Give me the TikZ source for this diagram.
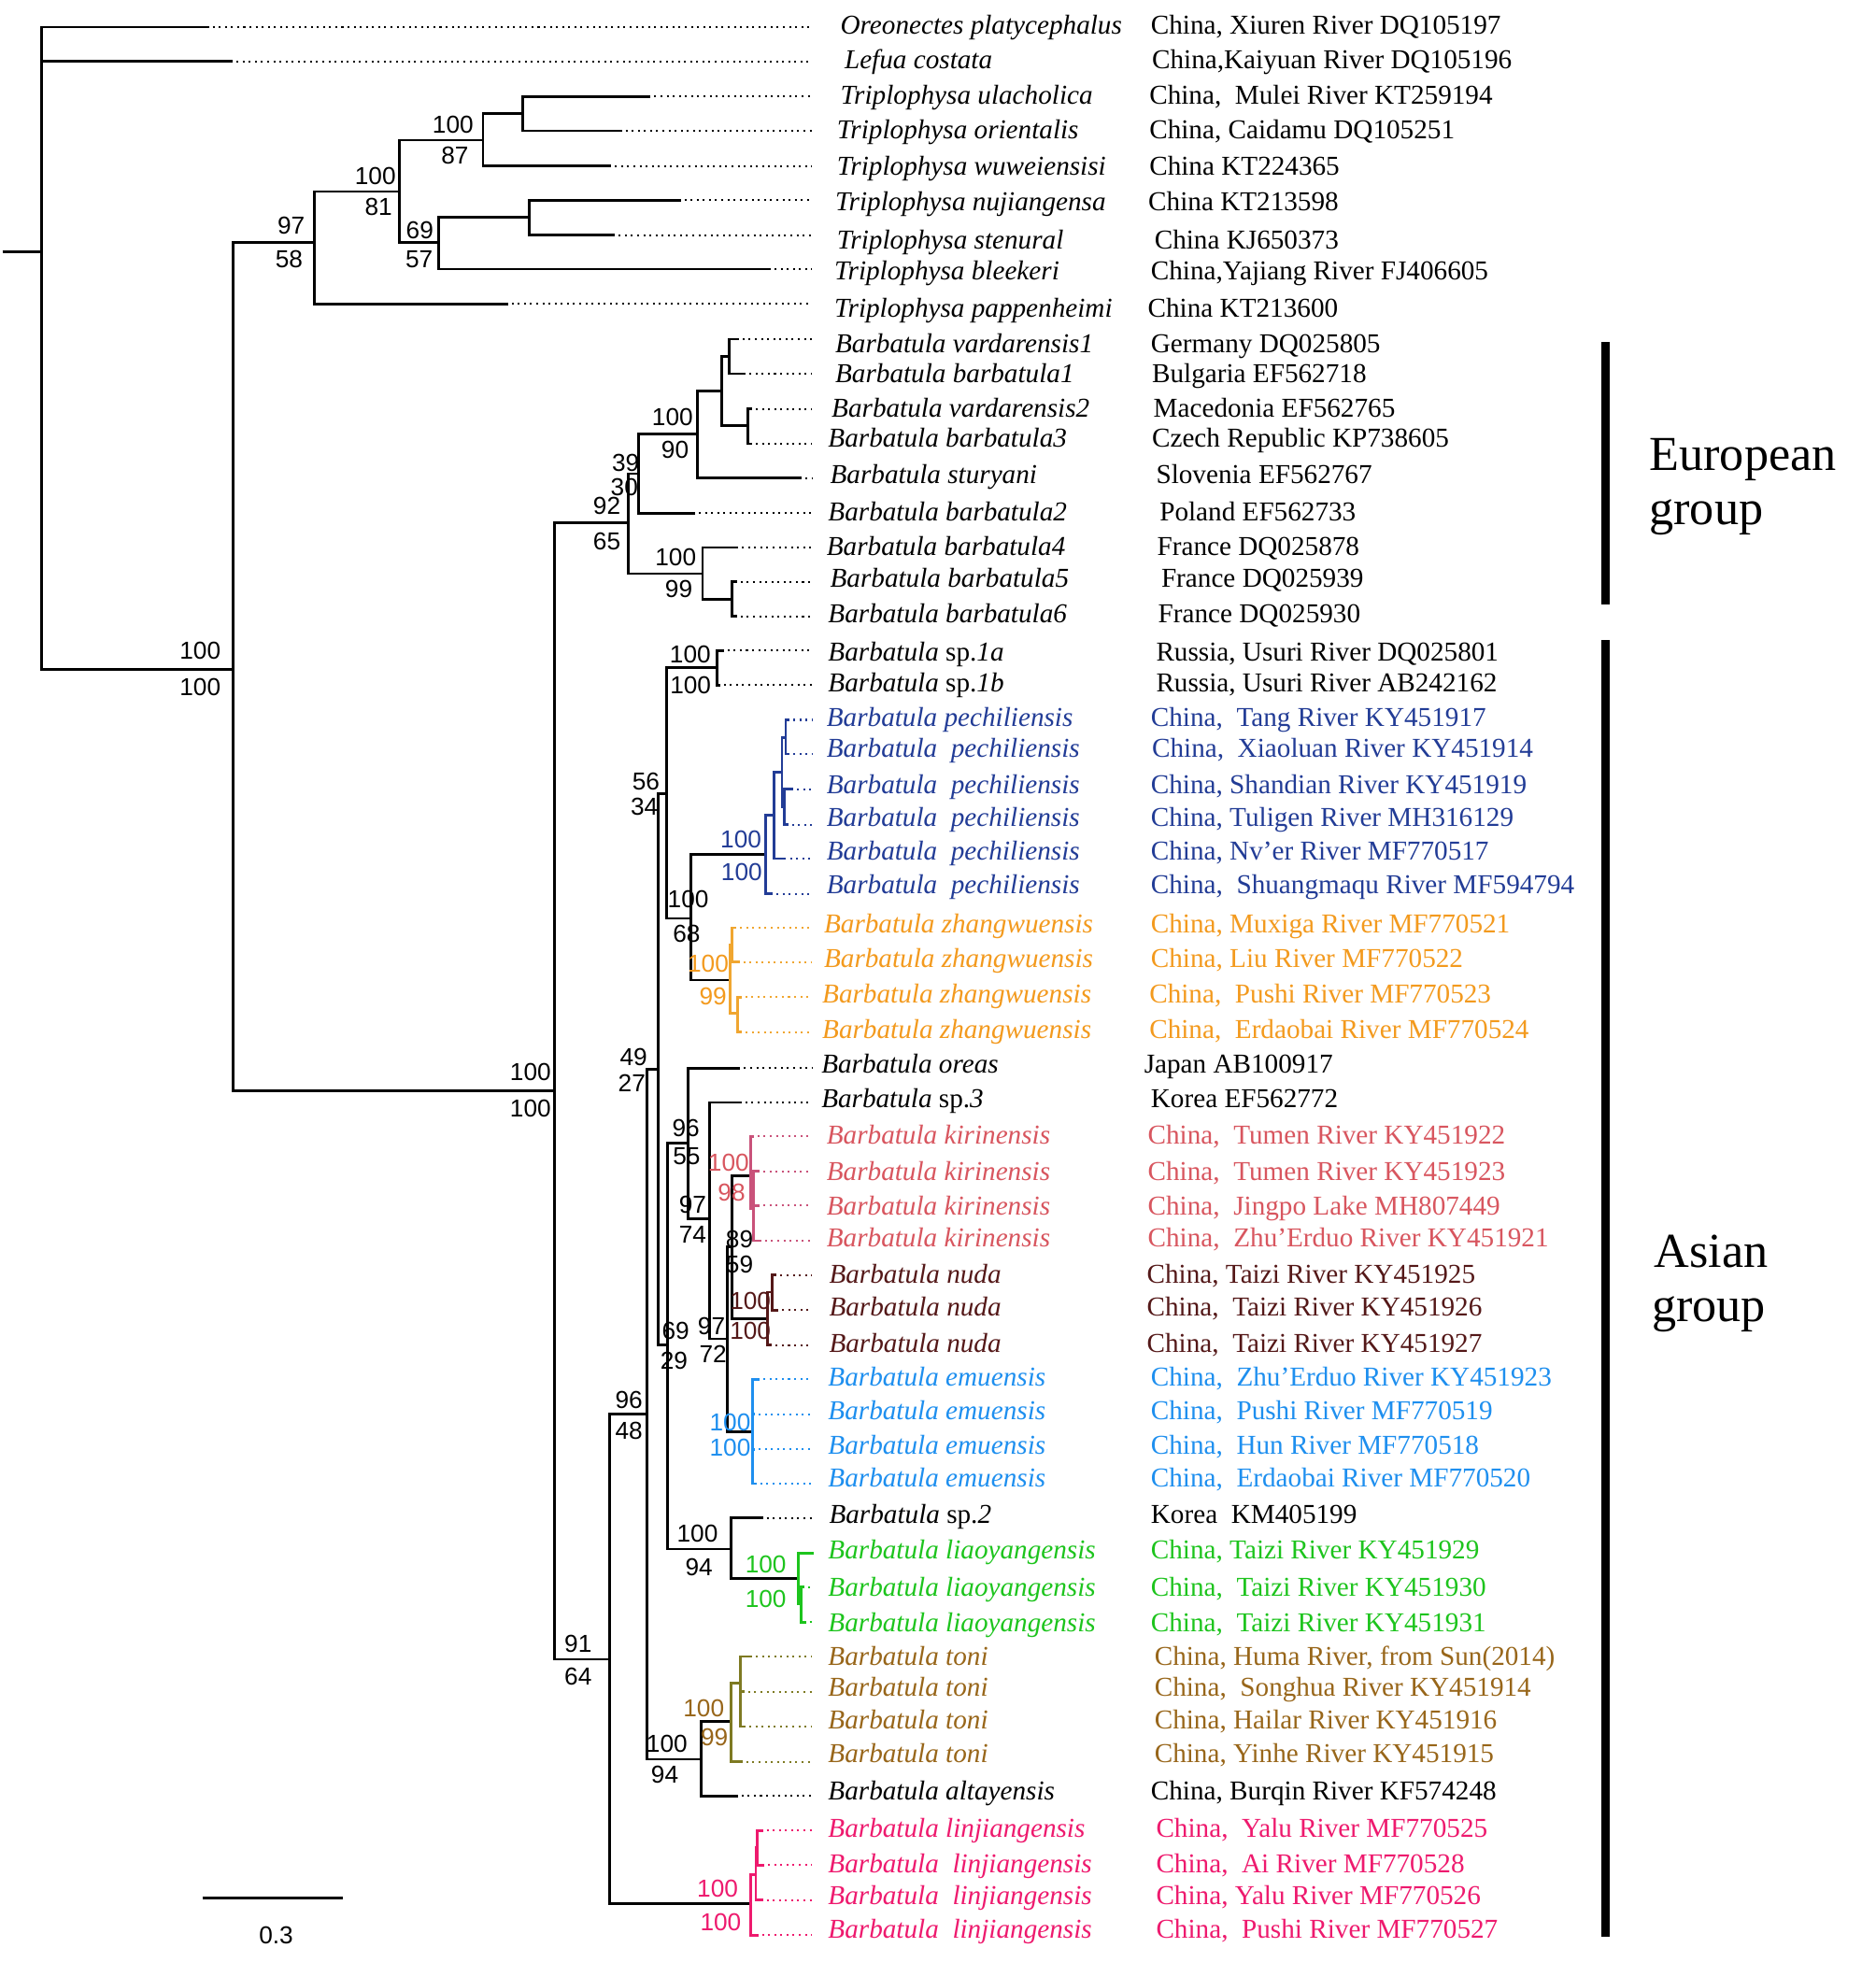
\documentclass[tikz,border=0pt]{standalone}
\usepackage{fontspec}
\setmainfont{Liberation Serif}
\newfontfamily\numfont{Liberation Sans}
\definecolor{pechC}{HTML}{223C96}
\definecolor{zhB}{HTML}{F0A630}
\definecolor{zhT}{HTML}{F39A1E}
\definecolor{kiB}{HTML}{C9527A}
\definecolor{kiT}{HTML}{D8565F}
\definecolor{nuC}{HTML}{541818}
\definecolor{emC}{HTML}{1E8FEF}
\definecolor{liC}{HTML}{1DC41D}
\definecolor{toB}{HTML}{7E7A22}
\definecolor{toT}{HTML}{98661A}
\definecolor{ljC}{HTML}{EE1A6E}
\newcommand\leafx[5]{\coordinate (#1) at (#3,#4); \draw[br,#5] (#2) |- (#1); \draw[dotl,#5] ([xshift=3pt]#1) -- (#1 -| dotend);}
\newcommand\inode[5]{\coordinate (#1) at (#3,#4); \draw[br,#5] (#2) |- (#1);}
\newcommand\trow[7]{\node[tax,text=#5] (#1a) at (#3,#2) {#6}; \node[loc,text=#5] (#1b) at (#4,#2) {#7};}
\newcommand\bval[5]{\node[lab,text=#5] (#1) at (#2,#3) {#4};}
\begin{document}
\begin{tikzpicture}[x=1pt,y=-1pt,
  br/.style={line width=2.1pt, line join=miter, line cap=butt},
  dotl/.style={line width=1.5pt, dash pattern=on 1.5pt off 3.4pt},
  tax/.style={anchor=base west, inner sep=0pt, font=\fontsize{21.8}{24}\selectfont\itshape},
  loc/.style={anchor=base west, inner sep=0pt, font=\fontsize{21.8}{24}\selectfont},
  lab/.style={inner sep=0pt, font=\numfont\fontsize{19.6}{21}\selectfont},
  grp/.style={anchor=base west, inner sep=0pt, font=\fontsize{39}{42}\selectfont}]
\useasboundingbox (0,0) rectangle (1499,1568);
\fill[white] (0,0) rectangle (1499,1568);
\coordinate (dotend) at (649,0);
% ---------- tree ----------
\coordinate (R0) at (2,201.5);
\coordinate (R) at (33,201.5);
\draw[br] (R0) -- (R);
\leafx{ore}{R}{167}{21.6}{black}
\leafx{lef}{R}{186}{49}{black}
\inode{A}{R}{186}{535}{black}
\inode{TR}{A}{251.5}{193.6}{black}
\inode{T81}{TR}{319}{153}{black}
\leafx{pap}{TR}{406}{243}{black}
\inode{T87}{T81}{386}{112}{black}
\inode{T69}{T81}{350.5}{194}{black}
\inode{Tul}{T87}{418}{91}{black}
\leafx{ula}{Tul}{520}{77}{black}
\leafx{ori}{Tul}{497}{104.5}{black}
\leafx{wuw}{T87}{488.5}{132.6}{black}
\inode{Tnj}{T69}{423}{173.4}{black}
\leafx{nuj}{Tnj}{544}{160}{black}
\leafx{ste}{Tnj}{491.5}{188}{black}
\leafx{ble}{T69}{616}{215}{black}
\inode{B}{A}{443}{872}{black}
\inode{EU}{B}{502}{418}{black}
\inode{E39}{EU}{510.6}{378.5}{black}
\inode{E100}{E39}{557.4}{347}{black}
\leafx{bb2}{E39}{555.5}{410}{black}
\inode{E1}{E100}{577}{312.3}{black}
\leafx{stu}{E100}{640.6}{382}{black}
\inode{E2}{E1}{583}{285}{black}
\inode{E3}{E1}{597.7}{340.4}{black}
\leafx{vd1}{E2}{590.5}{271}{black}
\leafx{bb1}{E2}{596}{298.6}{black}
\leafx{vd2}{E3}{601}{326.7}{black}
\leafx{bb3}{E3}{601}{354.6}{black}
\inode{E4}{EU}{561.5}{458.4}{black}
\leafx{bb4}{E4}{590}{437.5}{black}
\inode{E5}{E4}{584.8}{479}{black}
\leafx{bb5}{E5}{589}{464.8}{black}
\leafx{bb6}{E5}{589}{492.7}{black}
\inode{AS}{B}{487}{1326}{black}
\inode{N96}{AS}{517}{1130.2}{black}
\inode{LJ}{AS}{600.2}{1521.6}{black}
\inode{N49}{N96}{526}{854.7}{black}
\inode{N100c}{N96}{560.4}{1405.9}{black}
\inode{N56}{N49}{533}{634}{black}
\inode{N69}{N49}{533.7}{1075}{black}
\inode{SP1}{N56}{573}{533.7}{black}
\leafx{s1a}{SP1}{578.5}{520}{black}
\leafx{s1b}{SP1}{575.5}{547.4}{black}
\inode{N100a}{N56}{552}{734}{black}
\inode{P}{N100a}{612}{683}{black}
\inode{Z}{N100a}{583.5}{783.3}{black}
% pechiliensis
\inode{P1}{P}{618.5}{651.4}{pechC}
\leafx{pe6}{P}{617.7}{714.2}{pechC}
\inode{P2}{P1}{625}{617}{pechC}
\leafx{pe5}{P1}{628.3}{686.2}{pechC}
\inode{P3}{P2}{628}{589.7}{pechC}
\inode{P4}{P2}{627}{645}{pechC}
\leafx{pe1}{P3}{631}{575.3}{pechC}
\leafx{pe2}{P3}{631}{602.6}{pechC}
\leafx{pe3}{P4}{634}{630.8}{pechC}
\leafx{pe4}{P4}{630}{659}{pechC}
% zhangwuensis
\inode{Z1}{Z}{585.2}{755}{zhB}
\inode{Z2}{Z}{589.7}{810}{zhB}
\leafx{zh1}{Z1}{588.5}{741.5}{zhB}
\leafx{zh2}{Z1}{591}{768.9}{zhB}
\leafx{zh3}{Z2}{592.5}{797}{zhB}
\leafx{zh4}{Z2}{593}{824.9}{zhB}
% lower asian
\inode{N96b}{N69}{550}{913.7}{black}
\inode{N100b}{N69}{584.3}{1238}{black}
\leafx{orea}{N96b}{591.7}{853.5}{black}
\inode{N97}{N96b}{566.8}{974.2}{black}
\leafx{spt}{N97}{592.7}{881}{black}
\inode{N97b}{N97}{581}{1070}{black}
\inode{N89}{N97b}{585.3}{996.6}{black}
\inode{EM}{N97b}{601.7}{1144.1}{black}
\inode{K}{N89}{600}{939.4}{black}
\inode{NU}{N89}{613.3}{1053.8}{black}
% kirinensis
\leafx{ki1}{K}{602.4}{908.2}{kiB}
\inode{K1}{K}{602.4}{966}{kiB}
\leafx{ki2}{K1}{607}{936.1}{kiB}
\leafx{ki3}{K1}{607}{963.5}{kiB}
\leafx{ki4}{K1}{608.4}{991.6}{kiB}
% nuda
\inode{NU1}{NU}{617.1}{1032.6}{nuC}
\leafx{nu3}{NU}{617}{1075}{nuC}
\leafx{nu1}{NU1}{620.8}{1019}{nuC}
\leafx{nu2}{NU1}{622}{1047}{nuC}
% emuensis
\leafx{em1}{EM}{607.2}{1102.3}{emC}
\leafx{em2}{EM}{603.4}{1130.2}{emC}
\leafx{em3}{EM}{603.4}{1158.3}{emC}
\leafx{em4}{EM}{604.7}{1185.7}{emC}
% sp2 + liaoyangensis
\leafx{sptwo}{N100b}{609.7}{1213}{black}
\inode{L}{N100b}{638.3}{1261.6}{black}
\inode{li1}{L}{650}{1241.2}{liC}
\inode{L1}{L}{640.5}{1282}{liC}
\leafx{li2}{L1}{642.9}{1268.5}{liC}
\leafx{li3}{L1}{644.1}{1296.4}{liC}
% toni + altayensis
\inode{T}{N100c}{584.3}{1376}{black}
\leafx{alt}{N100c}{589.7}{1435.3}{black}
\inode{T1}{T}{592}{1345}{toB}
\leafx{to4}{T}{593.5}{1408}{toB}
\leafx{to1}{T1}{601}{1323.8}{toB}
\leafx{to2}{T1}{595}{1352}{toB}
\leafx{to3}{T1}{595.9}{1379.8}{toB}
% linjiangensis
\inode{LJ1}{LJ}{604}{1498}{ljC}
\leafx{lj4}{LJ}{606}{1546.5}{ljC}
\inode{LJ2}{LJ1}{605.2}{1476.8}{ljC}
\leafx{lj3}{LJ1}{609.7}{1518.4}{ljC}
\leafx{lj1}{LJ2}{609.7}{1463}{ljC}
\leafx{lj2}{LJ2}{610.9}{1490.5}{ljC}
% ---------- support values ----------
\bval{v1}{160}{520}{100}{black}
\bval{v2}{160}{549}{100}{black}
\bval{v3}{232.7}{180}{97}{black}
\bval{v4}{231}{207}{58}{black}
\bval{v5}{300}{140.6}{100}{black}
\bval{v6}{302.5}{165}{81}{black}
\bval{v7}{362}{100}{100}{black}
\bval{v8}{363.6}{124}{87}{black}
\bval{v9}{335.5}{184}{69}{black}
\bval{v10}{335}{207}{57}{black}
\bval{v11}{424}{857}{100}{black}
\bval{v12}{424}{886}{100}{black}
\bval{v13}{537.5}{333.5}{100}{black}
\bval{v14}{539.5}{359.6}{90}{black}
\bval{v15}{500}{370}{39}{black}
\bval{v16}{499}{389.4}{30}{black}
\bval{v17}{485}{404}{92}{black}
\bval{v18}{485}{432.5}{65}{black}
\bval{v19}{540}{445.4}{100}{black}
\bval{v20}{542.5}{470.8}{99}{black}
\bval{v21}{462}{1314}{91}{black}
\bval{v22}{462}{1340}{64}{black}
\bval{v23}{551.7}{523}{100}{black}
\bval{v24}{551.9}{547.4}{100}{black}
\bval{v25}{516.3}{624.5}{56}{black}
\bval{v26}{515}{644.5}{34}{black}
\bval{v27}{592.2}{670.6}{100}{pechC}
\bval{v28}{592.7}{696.7}{100}{pechC}
\bval{v29}{550}{719}{100}{black}
\bval{v30}{548.7}{746.5}{68}{black}
\bval{v31}{566}{770}{100}{zhT}
\bval{v32}{569.8}{796.3}{99}{zhT}
\bval{v33}{506.4}{844.8}{49}{black}
\bval{v34}{505}{866}{27}{black}
\bval{v35}{548.2}{901.2}{96}{black}
\bval{v36}{548.7}{924.4}{55}{black}
\bval{v37}{553.6}{963}{97}{black}
\bval{v38}{553.6}{986.6}{74}{black}
\bval{v39}{582.3}{929.4}{100}{kiT}
\bval{v40}{584.7}{953}{98}{kiT}
\bval{v41}{591}{990.3}{89}{black}
\bval{v42}{591}{1010.3}{59}{black}
\bval{v43}{599.7}{1040}{100}{nuC}
\bval{v44}{599.7}{1063.8}{100}{nuC}
\bval{v45}{540}{1063.8}{69}{black}
\bval{v46}{538.7}{1087.4}{29}{black}
\bval{v47}{568.6}{1060}{97}{black}
\bval{v48}{569.8}{1082.4}{72}{black}
\bval{v49}{583.5}{1136.7}{100}{emC}
\bval{v50}{583.5}{1157}{100}{emC}
\bval{v51}{502.6}{1118.5}{96}{black}
\bval{v52}{502.6}{1143.4}{48}{black}
\bval{v53}{557.4}{1225.5}{100}{black}
\bval{v54}{558.6}{1252.8}{94}{black}
\bval{v55}{612}{1250.4}{100}{liC}
\bval{v56}{612}{1277.8}{100}{liC}
\bval{v57}{562.4}{1365.6}{100}{toT}
\bval{v58}{571}{1388.5}{99}{toT}
\bval{v59}{533}{1393.5}{100}{black}
\bval{v60}{531.3}{1418.3}{94}{black}
\bval{v61}{573.5}{1509}{100}{ljC}
\bval{v62}{576}{1536.5}{100}{ljC}
% ---------- taxa ----------
\trow{r1}{27.3}{671.5}{919.6}{black}{Oreonectes platycephalus}{China, Xiuren River DQ105197}
\trow{r2}{55}{674.8}{920.5}{black}{Lefua costata}{China,Kaiyuan River DQ105196}
\trow{r3}{83.3}{671.5}{918.4}{black}{Triplophysa ulacholica}{China,\ \ Mulei River KT259194}
\trow{r4}{110.6}{668.7}{918.4}{black}{Triplophysa orientalis}{China, Caidamu DQ105251}
\trow{r5}{140}{668.7}{918.4}{black}{Triplophysa wuweiensisi}{China KT224365}
\trow{r6}{168.3}{667.4}{917.6}{black}{Triplophysa nujiangensa}{China KT213598}
\trow{r7}{199.3}{668.7}{922.5}{black}{Triplophysa stenural}{China KJ650373}
\trow{r8}{223.3}{666.6}{919.6}{black}{Triplophysa bleekeri}{China,Yajiang River FJ406605}
\trow{r9}{253.3}{666.6}{917.2}{black}{Triplophysa pappenheimi}{China KT213600}
\trow{r10}{281.6}{667.4}{919.6}{black}{Barbatula vardarensis1}{Germany DQ025805}
\trow{r11}{306}{667.4}{920.5}{black}{Barbatula barbatula1}{Bulgaria EF562718}
\trow{r12}{333.3}{664.5}{921.7}{black}{Barbatula vardarensis2}{Macedonia EF562765}
\trow{r13}{357.3}{661.7}{920.5}{black}{Barbatula barbatula3}{Czech Republic KP738605}
\trow{r14}{386.6}{663.3}{923.8}{black}{Barbatula sturyani}{Slovenia EF562767}
\trow{r15}{416.6}{661.7}{926.6}{black}{Barbatula barbatula2}{Poland EF562733}
\trow{r16}{443.9}{660.5}{924.6}{black}{Barbatula barbatula4}{France DQ025878}
\trow{r17}{469.2}{663.3}{927.9}{black}{Barbatula barbatula5}{France DQ025939}
\trow{r18}{497.6}{661.7}{925.4}{black}{Barbatula barbatula6}{France DQ025930}
\trow{r19}{528}{661.7}{923.8}{black}{Barbatula \textup{sp.}1a}{Russia, Usuri River DQ025801}
\trow{r20}{552.8}{661.7}{923.8}{black}{Barbatula \textup{sp.}1b}{Russia, Usuri River AB242162}
\trow{r21}{580.2}{660.5}{919.6}{pechC}{Barbatula pechiliensis}{China,\ \ Tang River KY451917}
\trow{r22}{604.9}{660.5}{920.5}{pechC}{Barbatula\ \ pechiliensis}{China,\ \ Xiaoluan River KY451914}
\trow{r23}{634.4}{660.5}{919.6}{pechC}{Barbatula\ \ pechiliensis}{China, Shandian River KY451919}
\trow{r24}{660.7}{660.5}{919.6}{pechC}{Barbatula\ \ pechiliensis}{China, Tuligen River MH316129}
\trow{r25}{687.1}{660.5}{919.6}{pechC}{Barbatula\ \ pechiliensis}{China, Nv’er River MF770517}
\trow{r26}{714.5}{660.5}{919.6}{pechC}{Barbatula\ \ pechiliensis}{China,\ \ Shuangmaqu River MF594794}
\trow{r27}{745.4}{658.4}{919.6}{zhT}{Barbatula zhangwuensis}{China, Muxiga River MF770521}
\trow{r28}{772.8}{658.4}{919.6}{zhT}{Barbatula zhangwuensis}{China, Liu River MF770522}
\trow{r29}{801.3}{657}{918.4}{zhT}{Barbatula zhangwuensis}{China,\ \ Pushi River MF770523}
\trow{r30}{829.7}{657}{918.4}{zhT}{Barbatula zhangwuensis}{China,\ \ Erdaobai River MF770524}
\trow{r31}{857.8}{656.3}{914.3}{black}{Barbatula oreas}{Japan AB100917}
\trow{r32}{885.3}{656.3}{919.6}{black}{Barbatula \textup{sp.}3}{Korea EF562772}
\trow{r33}{914.4}{660.5}{917.2}{kiT}{Barbatula kirinensis}{China,\ \ Tumen River KY451922}
\trow{r34}{943.5}{660.5}{917.2}{kiT}{Barbatula kirinensis}{China,\ \ Tumen River KY451923}
\trow{r35}{970.9}{660.5}{917.2}{kiT}{Barbatula kirinensis}{China,\ \ Jingpo Lake MH807449}
\trow{r36}{996.6}{660.5}{917.2}{kiT}{Barbatula kirinensis}{China,\ \ Zhu’Erduo River KY451921}
\trow{r37}{1025.8}{662.5}{916.4}{nuC}{Barbatula nuda}{China, Taizi River KY451925}
\trow{r38}{1051.4}{662.5}{916.4}{nuC}{Barbatula nuda}{China,\ \ Taizi River KY451926}
\trow{r39}{1081}{662.5}{916.4}{nuC}{Barbatula nuda}{China,\ \ Taizi River KY451927}
\trow{r40}{1107.7}{661.7}{919.6}{emC}{Barbatula emuensis}{China,\ \ Zhu’Erduo River KY451923}
\trow{r41}{1134.4}{661.7}{919.6}{emC}{Barbatula emuensis}{China,\ \ Pushi River MF770519}
\trow{r42}{1162.4}{661.7}{919.6}{emC}{Barbatula emuensis}{China,\ \ Hun River MF770518}
\trow{r43}{1188.4}{661.7}{919.6}{emC}{Barbatula emuensis}{China,\ \ Erdaobai River MF770520}
\trow{r44}{1217.7}{662.5}{919.6}{black}{Barbatula \textup{sp.}2}{Korea\ \ KM405199}
\trow{r45}{1245.7}{661.7}{919.6}{liC}{Barbatula liaoyangensis}{China, Taizi River KY451929}
\trow{r46}{1275.7}{661.7}{919.6}{liC}{Barbatula liaoyangensis}{China,\ \ Taizi River KY451930}
\trow{r47}{1304.3}{661.7}{919.6}{liC}{Barbatula liaoyangensis}{China,\ \ Taizi River KY451931}
\trow{r48}{1331}{661.7}{922.5}{toT}{Barbatula toni}{China, Huma River, from Sun(2014)}
\trow{r49}{1355.6}{661.7}{922.5}{toT}{Barbatula toni}{China,\ \ Songhua River KY451914}
\trow{r50}{1381.7}{661.7}{922.5}{toT}{Barbatula toni}{China, Hailar River KY451916}
\trow{r51}{1408.3}{661.7}{922.5}{toT}{Barbatula toni}{China, Yinhe River KY451915}
\trow{r52}{1438.3}{661.7}{919.6}{black}{Barbatula altayensis}{China, Burqin River KF574248}
\trow{r53}{1468.3}{661.7}{923.8}{ljC}{Barbatula linjiangensis}{China,\ \ Yalu River MF770525}
\trow{r54}{1496.6}{661.7}{923.8}{ljC}{Barbatula\ \ linjiangensis}{China,\ \ Ai River MF770528}
\trow{r55}{1522.3}{661.7}{923.8}{ljC}{Barbatula\ \ linjiangensis}{China, Yalu River MF770526}
\trow{r56}{1549}{661.7}{923.8}{ljC}{Barbatula\ \ linjiangensis}{China,\ \ Pushi River MF770527}
% ---------- groups ----------
\fill (1279.5,273.3) rectangle (1286.5,483);
\fill (1279.5,511.5) rectangle (1286.5,1548);
\node[grp] (eu1) at (1318,376) {European};
\node[grp] (eu2) at (1318,419) {group};
\node[grp] (as1) at (1322,1013) {Asian};
\node[grp] (as2) at (1320,1056) {group};
% ---------- scale bar ----------
\coordinate (sb1) at (161.7,1516.6);
\coordinate (sb2) at (273.7,1516.6);
\draw[br] (sb1) -- (sb2);
\bval{sbl}{220.7}{1547}{0.3}{black}
\end{tikzpicture}
\end{document}
